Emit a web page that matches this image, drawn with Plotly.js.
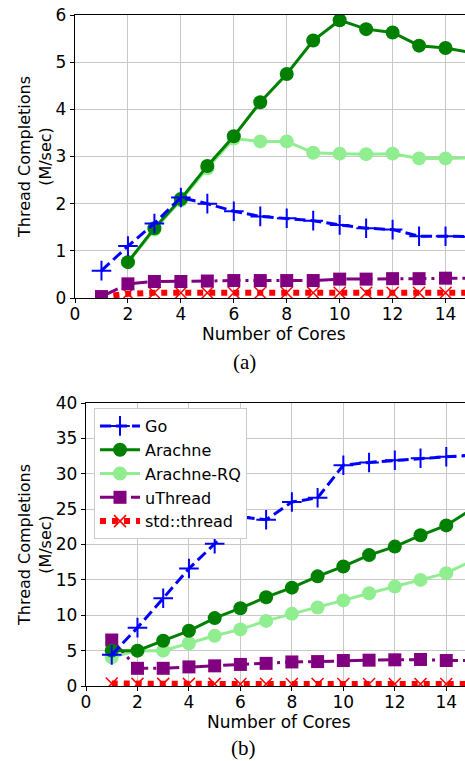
<!DOCTYPE html>
<html>
<head>
<meta charset="utf-8">
<script src="https://cdn.plot.ly/plotly-3.0.1.min.js"></script>
<style>
html,body{margin:0;padding:0;background:#fff;}
#wrap{width:465px;height:761px;overflow:hidden;}
</style>
</head>
<body>
<div id="wrap"><div id="chart"></div></div>
<script>
// ---- data ----
const cores = [1,2,3,4,5,6,7,8,9,10,11,12,13,14,15];
const xTicks = [0,2,4,6,8,10,12,14];

// (a)
const goA       = [0.58, 1.10, 1.58, 2.13, 2.00, 1.84, 1.73, 1.69, 1.64, 1.55, 1.48, 1.45, 1.31, 1.31, 1.30];
const arachneA  = [null, 0.76, 1.48, 2.10, 2.80, 3.43, 4.15, 4.75, 5.46, 5.89, 5.70, 5.63, 5.35, 5.30, 5.20];
const arachneRQA= [null, 0.76, 1.45, 2.07, 2.75, 3.38, 3.32, 3.32, 3.08, 3.06, 3.05, 3.06, 2.96, 2.96, 2.97];
const uThreadA  = [0.03, 0.30, 0.35, 0.35, 0.36, 0.37, 0.37, 0.37, 0.37, 0.40, 0.40, 0.41, 0.41, 0.42, 0.42];
const stdA      = [0.02, 0.09, 0.11, 0.11, 0.11, 0.11, 0.11, 0.11, 0.11, 0.11, 0.11, 0.11, 0.11, 0.11, 0.11];

// (b)
const goB       = [4.4, 8.25, 12.4, 16.6, 20.1, 23.9, 23.5, 26.0, 26.6, 31.2, 31.6, 31.9, 32.2, 32.4, 32.6];
const arachneB  = [5.0, 5.0, 6.4, 7.8, 9.6, 11.0, 12.55, 13.9, 15.5, 16.9, 18.5, 19.7, 21.3, 22.7, 25.0];
const arachneRQB= [4.05, 5.0, 5.0, 6.05, 7.1, 8.0, 9.2, 10.2, 11.1, 12.1, 13.1, 14.05, 15.0, 15.95, 17.7];
const uThreadB  = [6.5, 2.5, 2.5, 2.7, 2.85, 3.05, 3.2, 3.4, 3.45, 3.6, 3.65, 3.7, 3.75, 3.6, 3.6];
const stdB      = [0.35, 0.3, 0.3, 0.3, 0.3, 0.28, 0.28, 0.28, 0.28, 0.28, 0.28, 0.28, 0.28, 0.28, 0.28];

const names = ['Go','Arachne','Arachne-RQ','uThread','std::thread'];
const yTitle = 'Thread Completions<br>(M/sec)';
const xTitle = 'Number of Cores';

// ---- styles ----
const FONT = 'DejaVu Sans, sans-serif';
const styles = {
  'Go':          {line:{color:'#0000ff', width:3, dash:'11px,5px'}, marker:{symbol:'cross-thin', size:14, color:'#0000ff', line:{color:'#0000ff', width:2}}},
  'Arachne':     {line:{color:'#008000', width:3}, marker:{symbol:'circle', size:14, color:'#008000'}},
  'Arachne-RQ':  {line:{color:'#90ee90', width:3}, marker:{symbol:'circle', size:14, color:'#90ee90'}},
  'uThread':     {line:{color:'#800080', width:3, dash:'18px,5px,3px,5px'}, marker:{symbol:'square', size:13, color:'#800080'}},
  'std::thread': {line:{color:'#ff0000', width:6, dash:'6px,6px'}, marker:{symbol:'x-thin', size:12, color:'#ff0000', line:{color:'#ff0000', width:1.5}}}
};

function mk(name, ys, xa, ya, show){
  const s = styles[name];
  return {x: cores, y: ys, name: name, mode:'lines+markers', xaxis: xa, yaxis: ya,
          line: s.line, marker: s.marker, showlegend: show, connectgaps:false};
}

// draw order: std, uThread, Arachne-RQ, Arachne, Go
const order = ['std::thread','uThread','Arachne-RQ','Arachne','Go'];
const seriesA = {'Go':goA,'Arachne':arachneA,'Arachne-RQ':arachneRQA,'uThread':uThreadA,'std::thread':stdA};
const seriesB = {'Go':goB,'Arachne':arachneB,'Arachne-RQ':arachneRQB,'uThread':uThreadB,'std::thread':stdB};

const data = [];
order.forEach(n => data.push(mk(n, seriesA[n], 'x', 'y', false)));
order.forEach(n => data.push(mk(n, seriesB[n], 'x2', 'y2', true)));

const W = 472, H = 761;
const px = v => v / W;
const py = v => (H - v) / H;

const axCommon = {
  showline:true, linecolor:'#000', linewidth:1.2,
  ticks:'outside', ticklen:4, tickwidth:1, tickcolor:'#000',
  showgrid:true, gridcolor:'#c8c8c8', gridwidth:1, zeroline:false,
  tickfont:{family:FONT, size:17, color:'#000'}
};
const xCommon = Object.assign({}, axCommon, {ticklabelstandoff:-4});

const layout = {
  width: W, height: H, autosize:false,
  margin:{l:0,r:0,t:0,b:0},
  paper_bgcolor:'#fff', plot_bgcolor:'#fff',
  font:{family:FONT, color:'#000'},
  xaxis: Object.assign({}, xCommon, {domain:[px(75),1], range:[0,15], tickvals:xTicks, anchor:'y', mirror:true}),
  yaxis: Object.assign({}, axCommon, {domain:[py(298),py(15)], range:[0,6], dtick:1, tick0:0, anchor:'x'}),
  xaxis2: Object.assign({}, xCommon, {domain:[px(86),1], range:[0,15], tickvals:xTicks, anchor:'y2', mirror:true}),
  yaxis2: Object.assign({}, axCommon, {domain:[py(686),py(403)], range:[0,40], dtick:5, tick0:0, anchor:'x2'}),
  showlegend:true,
  legend:{x:px(94), y:py(408), xanchor:'left', yanchor:'top', traceorder:'reversed',
          itemwidth:40,
          bgcolor:'#ffffff', bordercolor:'#cccccc', borderwidth:1,
          font:{family:FONT, size:16, color:'#000'}},
  annotations:[
    {text:xTitle, xref:'paper', yref:'paper', x:px(273.5), y:py(334), xanchor:'center', yanchor:'middle', showarrow:false, font:{family:FONT,size:17}},
    {text:xTitle, xref:'paper', yref:'paper', x:px(279), y:py(722), xanchor:'center', yanchor:'middle', showarrow:false, font:{family:FONT,size:17}},
    {text:yTitle, xref:'paper', yref:'paper', x:px(35), y:py(157), xanchor:'center', yanchor:'middle', textangle:-90, showarrow:false, font:{family:FONT,size:16}},
    {text:yTitle, xref:'paper', yref:'paper', x:px(35), y:py(545), xanchor:'center', yanchor:'middle', textangle:-90, showarrow:false, font:{family:FONT,size:16}},
    {text:'(a)', xref:'paper', yref:'paper', x:px(245), y:py(362), xanchor:'center', yanchor:'middle', showarrow:false, font:{family:'Liberation Serif, serif',size:21}},
    {text:'(b)', xref:'paper', yref:'paper', x:px(244), y:py(748), xanchor:'center', yanchor:'middle', showarrow:false, font:{family:'Liberation Serif, serif',size:21}}
  ]
};

Plotly.newPlot('chart', data, layout, {displayModeBar:false, staticPlot:true});
</script>
</body>
</html>
